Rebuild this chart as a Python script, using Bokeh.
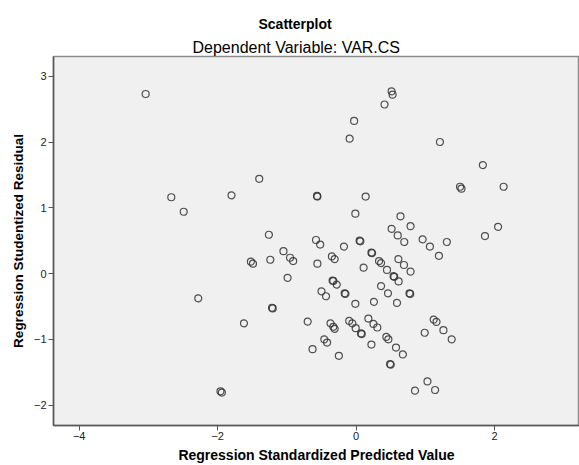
from bokeh.plotting import figure
from bokeh.models import Range1d, FixedTicker, Title
from bokeh.embed import file_html
from bokeh.resources import INLINE

# Regression standardized predicted value (x) and studentized residual (y)
pred = [-3.04, -2.67, -2.49, -1.80, 0.512, 0.527, 0.41, -0.03, -0.094, -1.40,
        -0.566, -0.56, 0.137, -0.012, 0.64, 0.786, 0.512, 0.60, -1.26, 1.21,
        1.83, 1.50, 1.52, 2.13, 2.05, 1.86, 0.695, 0.96, 1.065, 1.31,
        1.195, 0.69, 0.786, 0.77, 0.78, 1.12, 1.16, 0.99, 1.26, 1.38,
        0.675, 1.03, 0.85, 1.14, -2.28, -1.96, -1.94, -0.58, -0.52, -0.176,
        0.05, 0.06, -1.05, -0.955, -0.91, -1.24, -1.52, -1.49, -0.99, -0.56,
        -0.35, -0.31, 0.108, 0.22, 0.23, 0.33, 0.36, 0.445, 0.61, 0.54,
        0.55, 0.613, 0.36, 0.46, 0.59, 0.257, -0.012, -0.34, -0.33, -0.28,
        -0.50, -0.435, -0.166, -0.155, -1.215, -1.205, -1.62, -0.70, -0.37, -0.33,
        -0.31, -0.10, -0.055, -0.007, 0.07, 0.08, 0.176, 0.25, 0.305, 0.436,
        0.465, 0.22, 0.575, 0.49, 0.50, -0.46, -0.42, -0.63, -0.25]
resid = [2.73, 1.16, 0.94, 1.19, 2.77, 2.72, 2.57, 2.32, 2.05, 1.44,
         1.18, 1.17, 1.17, 0.91, 0.87, 0.72, 0.68, 0.58, 0.59, 2.00,
         1.65, 1.32, 1.29, 1.32, 0.71, 0.57, 0.48, 0.52, 0.41, 0.48,
         0.27, 0.13, 0.03, -0.30, -0.31, -0.70, -0.735, -0.90, -0.86, -1.00,
         -1.23, -1.64, -1.78, -1.77, -0.376, -1.79, -1.81, 0.51, 0.44, 0.41,
         0.50, 0.49, 0.34, 0.24, 0.19, 0.21, 0.18, 0.15, -0.065, 0.15,
         0.26, 0.22, 0.09, 0.32, 0.31, 0.19, 0.16, 0.056, 0.22, -0.04,
         -0.05, -0.12, -0.19, -0.30, -0.446, -0.43, -0.46, -0.107, -0.115, -0.167,
         -0.27, -0.345, -0.30, -0.31, -0.52, -0.53, -0.756, -0.73, -0.756, -0.81,
         -0.84, -0.72, -0.757, -0.83, -0.91, -0.92, -0.685, -0.766, -0.82, -0.964,
         -1.0, -1.08, -1.126, -1.375, -1.385, -1.00, -1.05, -1.15, -1.25]

x_ticks = [-4, -2, 0, 2]
y_ticks = [-2, -1, 0, 1, 2, 3]

FONT = "Liberation Sans"

p = figure(width=579, height=465, output_backend="svg", toolbar_location=None,
           x_range=Range1d(-4.371, 3.225), y_range=Range1d(-2.31, 3.30),
           min_border_left=53, min_border_right=0, min_border_top=56,
           min_border_bottom=40, title=None)

p.background_fill_color = "#F0F0F0"
p.border_fill_color = "white"
p.outline_line_color = "#8a8a8a"
p.outline_line_width = 1.5
p.xgrid.visible = False
p.ygrid.visible = False

p.add_layout(Title(text="Dependent Variable: VAR.CS", align="left", offset=139,
                   text_font=FONT, text_font_size="16px", text_font_style="normal",
                   text_color="#000000", standoff=2), "above")
p.add_layout(Title(text="Scatterplot", align="left", offset=205,
                   text_font=FONT, text_font_size="14px", text_font_style="bold",
                   text_color="#000000", standoff=7), "above")

for ax, ticks in ((p.xaxis, x_ticks), (p.yaxis, y_ticks)):
    ax.ticker = FixedTicker(ticks=ticks)
    ax.axis_line_color = "#555555"
    ax.axis_line_width = 1.5
    ax.major_tick_line_color = "#555555"
    ax.major_tick_in = 0
    ax.major_tick_out = 5
    ax.minor_tick_line_color = None
    ax.major_label_text_font = FONT
    ax.major_label_text_font_size = "11px"
    ax.major_label_text_color = "#222222"
    ax.axis_label_text_font = FONT
    ax.axis_label_text_font_style = "bold"
    ax.axis_label_text_color = "#000000"

p.xaxis.axis_label = "Regression Standardized Predicted Value"
p.yaxis.axis_label = "Regression Studentized Residual"
p.xaxis.axis_label_text_font_size = "14px"
p.yaxis.axis_label_text_font_size = "13.5px"
p.xaxis.major_label_standoff = 1
p.yaxis.major_label_standoff = 2
p.xaxis.axis_label_standoff = 4
p.yaxis.axis_label_standoff = 5

p.scatter(pred, resid, marker="circle", size=7, fill_color=None,
          line_color="#333333", line_alpha=0.85, line_width=1.2)

open("out.html", "w").write(file_html(p, INLINE))
